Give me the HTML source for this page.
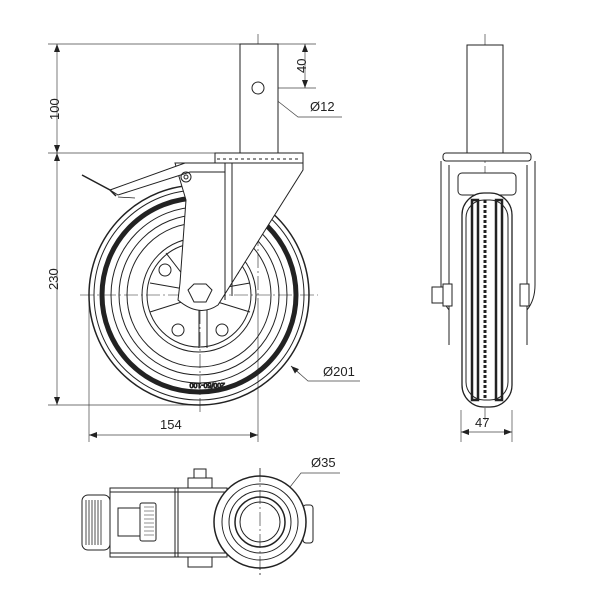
<!DOCTYPE html>
<html><head><style>body{margin:0;background:#fff}svg{display:block}text{font-family:"Liberation Sans",sans-serif;font-size:13px;fill:#222}</style></head><body>
<svg width="600" height="600" viewBox="0 0 600 600" xmlns="http://www.w3.org/2000/svg">
<defs><marker id="a" markerWidth="8" markerHeight="6" refX="8" refY="3" orient="auto-start-reverse" markerUnits="userSpaceOnUse"><path d="M0,0L8,3L0,6z" fill="#222"/></marker></defs>
<g stroke="#222" fill="none" stroke-width="1">
<!-- dims front -->
<g stroke-width="0.7" stroke="#444">
<line x1="48" y1="44" x2="316" y2="44"/><line x1="48" y1="153" x2="230" y2="153"/><line x1="48" y1="405" x2="200" y2="405"/>
<line x1="57" y1="44" x2="57" y2="153" marker-start="url(#a)" marker-end="url(#a)"/>
<line x1="57" y1="153" x2="57" y2="405" marker-start="url(#a)" marker-end="url(#a)"/>
<line x1="265" y1="88" x2="316" y2="88"/>
<line x1="305" y1="44" x2="305" y2="88" marker-start="url(#a)" marker-end="url(#a)"/>
<line x1="89" y1="300" x2="89" y2="442"/><line x1="258" y1="300" x2="258" y2="442"/>
<line x1="89" y1="435" x2="258" y2="435" marker-start="url(#a)" marker-end="url(#a)"/>
<polyline points="270,95 298,117 342,117"/><line x1="240" y1="76" x2="252" y2="84" marker-end="url(#a)"/><line x1="268" y1="94" x2="264" y2="91" marker-end="url(#a)"/>
<polyline points="360,381 308,381 291,366"/><line x1="300" y1="374" x2="291" y2="366" marker-end="url(#a)"/>
<line x1="461" y1="410" x2="461" y2="442"/><line x1="512" y1="410" x2="512" y2="442"/>
<line x1="461" y1="432" x2="512" y2="432" marker-start="url(#a)" marker-end="url(#a)"/>
<polyline points="340,473 301,473 272,510"/>
</g>
<!-- center lines -->
<g stroke-width="0.6" stroke-dasharray="14,3,2,3">
<line x1="258" y1="34" x2="258" y2="300"/><line x1="485" y1="34" x2="485" y2="420"/>
<line x1="80" y1="295" x2="318" y2="295"/><line x1="200" y1="200" x2="200" y2="415"/>
<line x1="260" y1="468" x2="260" y2="575"/><line x1="205" y1="522" x2="315" y2="522"/>
</g>
<!-- stem front -->
<rect x="240" y="44" width="38" height="109" fill="#fff"/>
<circle cx="258" cy="88" r="6"/>
<!-- wheel front -->
<circle cx="199" cy="295" r="110" stroke-width="1.5"/>
<circle cx="199" cy="295" r="105"/>
<circle cx="199" cy="295" r="97" stroke-width="5"/>
<circle cx="199" cy="295" r="88"/><circle cx="199" cy="295" r="80"/><circle cx="199" cy="295" r="72"/>
<circle cx="199" cy="295" r="57"/><circle cx="199" cy="295" r="52"/>
<g stroke-width="1">
<path d="M199,307 L199,348 M207,307 L207,348 M188,300 L150,312 M190,290 L150,283 M211,300 L250,312 M210,290 L250,283 M190,284 L166,253 M208,284 L232,253"/>
</g>
<circle cx="165" cy="270" r="6"/><circle cx="233" cy="270" r="6"/><circle cx="178" cy="330" r="6"/><circle cx="222" cy="330" r="6"/>
<text x="175" y="389" style="font-size:7px" transform="rotate(180 200 386)">200/50-100</text>
<!-- fork front -->
<path d="M186,200 L180,283 L178,300 Q199,318 218,305 L303,170 L303,163 L175,163 Z" fill="#fff"/>
<path d="M225,163 L225,300 M232,163 L232,296" />
<path d="M110,190 L185,163 L225,163 L225,172 L190,172 L118,195 Z" fill="#fff"/>
<path d="M82,175 L110,190 L116,196" stroke-width="1.5"/><line x1="118" y1="197" x2="135" y2="198" stroke-width="0.7"/>
<circle cx="186" cy="177" r="5"/><circle cx="186" cy="177" r="2"/>
<polygon points="188,290 194,284 206,284 212,290 206,302 194,302" fill="#fff"/>
<rect x="215" y="153" width="88" height="10" fill="#fff"/><line x1="217" y1="159" x2="301" y2="159" stroke-dasharray="3,3"/>
<!-- side view -->
<rect x="467" y="45" width="36" height="108" fill="#fff"/>
<rect x="443" y="153" width="88" height="8" rx="3" fill="#fff"/>
<path d="M441,161 L441,285 M535,161 L535,285 M449,165 L449,345 M527,165 L527,345 M441,285 Q441,300 449,310 M535,285 Q535,300 527,310"/>
<rect x="458" y="173" width="58" height="22" rx="4" fill="#fff"/>
<rect x="462" y="193" width="50" height="214" rx="22" fill="#fff" stroke-width="1.3"/>
<rect x="466" y="200" width="42" height="200" rx="18"/>
<rect x="472" y="200" width="6" height="200" stroke-width="2.5"/><rect x="496" y="200" width="6" height="200" stroke-width="2.5"/>
<line x1="485" y1="200" x2="485" y2="400" stroke-dasharray="3,2" stroke-width="3"/>
<rect x="432" y="287" width="11" height="16" fill="#fff"/><rect x="443" y="284" width="9" height="22" fill="#fff"/>
<rect x="520" y="284" width="9" height="22" fill="#fff"/>
<!-- bottom view -->
<rect x="110" y="488" width="117" height="69" fill="#fff"/>
<line x1="110" y1="492" x2="227" y2="492"/><line x1="110" y1="553" x2="227" y2="553"/>
<line x1="175" y1="488" x2="175" y2="557"/><line x1="178" y1="488" x2="178" y2="557"/>
<rect x="82" y="495" width="28" height="55" rx="6" fill="#fff"/>
<path d="M86,500 V545 M89,500 V545 M92,500 V545 M95,500 V545 M98,500 V545 M101,500 V545" stroke-width="0.8"/>
<rect x="118" y="508" width="22" height="28"/><rect x="140" y="503" width="16" height="38" rx="2"/>
<path d="M144,507 H154 M144,511 H154 M144,515 H154 M144,519 H154 M144,523 H154 M144,527 H154 M144,531 H154 M144,535 H154" stroke-width="0.6"/>
<rect x="188" y="478" width="24" height="10" fill="#fff"/><rect x="194" y="469" width="12" height="9" fill="#fff"/>
<rect x="188" y="557" width="24" height="10" fill="#fff"/>
<rect x="303" y="505" width="10" height="38" rx="3" fill="#fff"/>
<circle cx="260" cy="522" r="46" fill="#fff" stroke-width="1.5"/>
<circle cx="260" cy="522" r="38"/><circle cx="260" cy="522" r="31"/><circle cx="260" cy="522" r="25" stroke-width="1.5"/><circle cx="260" cy="522" r="20"/>
<line x1="260" y1="468" x2="260" y2="575" stroke-width="0.6" stroke-dasharray="14,3,2,3"/>
</g>
<text x="27" y="112" transform="rotate(-90 47 100)" x-offset="0">100</text>
<text x="35" y="293" transform="rotate(-90 45 280)">230</text>
<text x="293" y="72" transform="rotate(-90 300 66)">40</text>
<text x="310" y="111">Ø12</text>
<text x="160" y="429">154</text>
<text x="323" y="376">Ø201</text>
<text x="475" y="427">47</text>
<text x="311" y="467">Ø35</text>
</svg>
</body></html>
